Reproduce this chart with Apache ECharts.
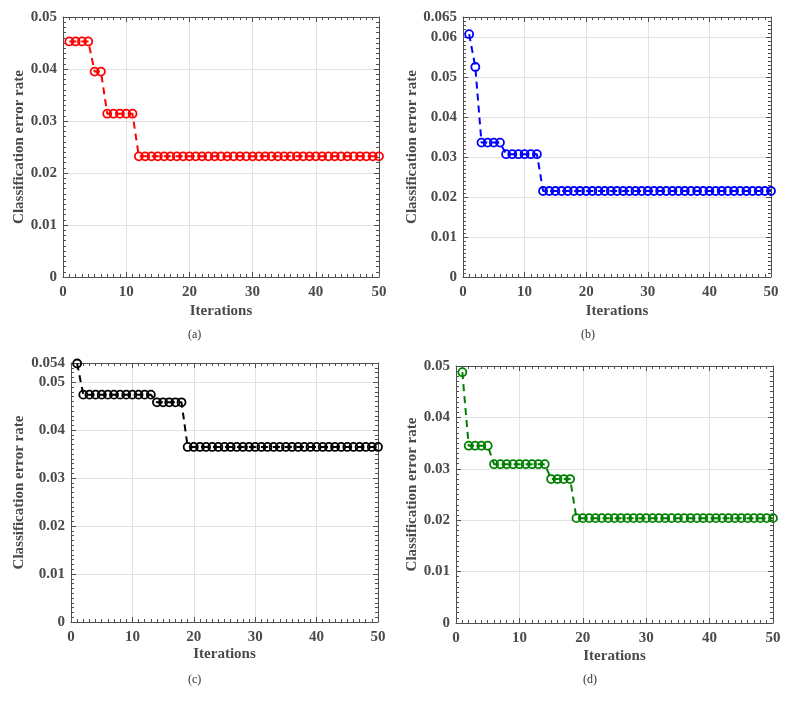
<!DOCTYPE html>
<html>
<head>
<meta charset="utf-8">
<script src="https://cdn.jsdelivr.net/npm/echarts@6/dist/echarts.min.js"></script>
<style>
html,body{margin:0;padding:0;background:#fff;}
#chart{width:790px;height:707px;}
</style>
</head>
<body>
<div id="chart"></div>
<script>
// ---- data ----
const iterations = [1,2,3,4,5,6,7,8,9,10,11,12,13,14,15,16,17,18,19,20,21,22,23,24,25,26,27,28,29,30,31,32,33,34,35,36,37,38,39,40,41,42,43,44,45,46,47,48,49,50];
const errA = [0.0453,0.0453,0.0453,0.0453,0.0395,0.0395,0.0314,0.0314,0.0314,0.0314,0.0314,0.0232,0.0232,0.0232,0.0232,0.0232,0.0232,0.0232,0.0232,0.0232,0.0232,0.0232,0.0232,0.0232,0.0232,0.0232,0.0232,0.0232,0.0232,0.0232,0.0232,0.0232,0.0232,0.0232,0.0232,0.0232,0.0232,0.0232,0.0232,0.0232,0.0232,0.0232,0.0232,0.0232,0.0232,0.0232,0.0232,0.0232,0.0232,0.0232];
const errB = [0.0607,0.0525,0.0336,0.0336,0.0336,0.0336,0.0307,0.0307,0.0307,0.0307,0.0307,0.0307,0.0215,0.0215,0.0215,0.0215,0.0215,0.0215,0.0215,0.0215,0.0215,0.0215,0.0215,0.0215,0.0215,0.0215,0.0215,0.0215,0.0215,0.0215,0.0215,0.0215,0.0215,0.0215,0.0215,0.0215,0.0215,0.0215,0.0215,0.0215,0.0215,0.0215,0.0215,0.0215,0.0215,0.0215,0.0215,0.0215,0.0215,0.0215];
const errC = [0.0539,0.0474,0.0474,0.0474,0.0474,0.0474,0.0474,0.0474,0.0474,0.0474,0.0474,0.0474,0.0474,0.0458,0.0458,0.0458,0.0458,0.0458,0.0365,0.0365,0.0365,0.0365,0.0365,0.0365,0.0365,0.0365,0.0365,0.0365,0.0365,0.0365,0.0365,0.0365,0.0365,0.0365,0.0365,0.0365,0.0365,0.0365,0.0365,0.0365,0.0365,0.0365,0.0365,0.0365,0.0365,0.0365,0.0365,0.0365,0.0365,0.0365];
const errD = [0.0488,0.0345,0.0345,0.0345,0.0345,0.0309,0.0309,0.0309,0.0309,0.0309,0.0309,0.0309,0.0309,0.0309,0.0280,0.0280,0.0280,0.0280,0.0204,0.0204,0.0204,0.0204,0.0204,0.0204,0.0204,0.0204,0.0204,0.0204,0.0204,0.0204,0.0204,0.0204,0.0204,0.0204,0.0204,0.0204,0.0204,0.0204,0.0204,0.0204,0.0204,0.0204,0.0204,0.0204,0.0204,0.0204,0.0204,0.0204,0.0204,0.0204];
const yMaxes = [0.05, 0.065, 0.054, 0.05];
const xTicks = {min: 0, max: 50, interval: 10};
const captions = ['(a)', '(b)', '(c)', '(d)'];
const colors = ['#ff0000', '#0000ff', '#000000', '#008000'];
const yTitle = 'Classification error rate';
const xTitle = 'Iterations';
const seriesData = [errA, errB, errC, errD];

// ---- layout ----
const grids = [
  {left: 63, top: 17, width: 316, height: 260},
  {left: 463, top: 17, width: 308, height: 260},
  {left: 71, top: 363, width: 307, height: 259},
  {left: 456, top: 366, width: 317, height: 257}
];
const captionPos = [[196, 337], [589, 337], [196, 682], [591, 682]];
const yNameGap = [36, 36, 44, 35];
const xNameGap = [27, 27, 25, 26];

const axisColor = '#505050';
const labelColor = '#4a4a4a';
const font = '"Liberation Serif", "Times New Roman", serif';

function fmt(v) { return String(+v.toFixed(3)); }

const xAxes = [], yAxes = [], series = [], graphics = [];
grids.forEach((g, i) => {
  const common = {
    axisLine: {show: true, onZero: false, lineStyle: {color: axisColor, width: 1}},
    axisTick: {show: true, inside: true, length: 5, lineStyle: {color: axisColor}},
    minorTick: {show: true, splitNumber: 10, length: 3, lineStyle: {color: axisColor}},
  };
  xAxes.push(Object.assign({}, common, {
    type: 'value', gridIndex: i, position: 'bottom',
    min: xTicks.min, max: xTicks.max, interval: xTicks.interval,
    name: xTitle, nameLocation: 'middle', nameGap: xNameGap[i],
    nameTextStyle: {fontFamily: font, fontWeight: 'bold', fontSize: 15, color: labelColor},
    axisLabel: {fontFamily: font, fontWeight: 'bold', fontSize: 15, color: labelColor, margin: 8},
    splitLine: {show: true, lineStyle: {color: '#e2e2e2', width: 1}}
  }));
  xAxes.push(Object.assign({}, common, {
    type: 'value', gridIndex: i, position: 'top',
    min: xTicks.min, max: xTicks.max, interval: xTicks.interval,
    axisLabel: {show: false}, splitLine: {show: false}
  }));
  yAxes.push(Object.assign({}, common, {
    type: 'value', gridIndex: i, position: 'left',
    min: 0, max: yMaxes[i], interval: 0.01,
    name: yTitle, nameLocation: 'middle', nameGap: yNameGap[i],
    nameTextStyle: {fontFamily: font, fontWeight: 'bold', fontSize: 15, color: labelColor},
    axisLabel: {fontFamily: font, fontWeight: 'bold', fontSize: 15, color: labelColor, margin: 6, formatter: fmt},
    splitLine: {show: true, lineStyle: {color: '#e2e2e2', width: 1}}
  }));
  yAxes.push(Object.assign({}, common, {
    type: 'value', gridIndex: i, position: 'right',
    min: 0, max: yMaxes[i], interval: 0.01,
    axisLabel: {show: false}, splitLine: {show: false}
  }));
  series.push({
    type: 'line', xAxisIndex: 2 * i, yAxisIndex: 2 * i,
    data: iterations.map((it, k) => [it, seriesData[i][k]]),
    symbol: 'circle', symbolSize: 8, showSymbol: true,
    lineStyle: {color: colors[i], width: 2, type: [7, 5]},
    itemStyle: {color: 'rgba(0,0,0,0)', borderColor: colors[i], borderWidth: 1.8},
    emphasis: {disabled: true},
    z: 3
  });
  graphics.push({
    type: 'text', left: captionPos[i][0] - 8, top: captionPos[i][1] - 8,
    style: {text: captions[i], font: '12px ' + font, fill: '#333'}
  });
});

const chart = echarts.init(document.getElementById('chart'), null, {renderer: 'canvas'});
chart.setOption({
  animation: false,
  backgroundColor: '#fff',
  grid: grids,
  xAxis: xAxes,
  yAxis: yAxes,
  series: series,
  graphic: graphics
});
</script>
</body>
</html>
